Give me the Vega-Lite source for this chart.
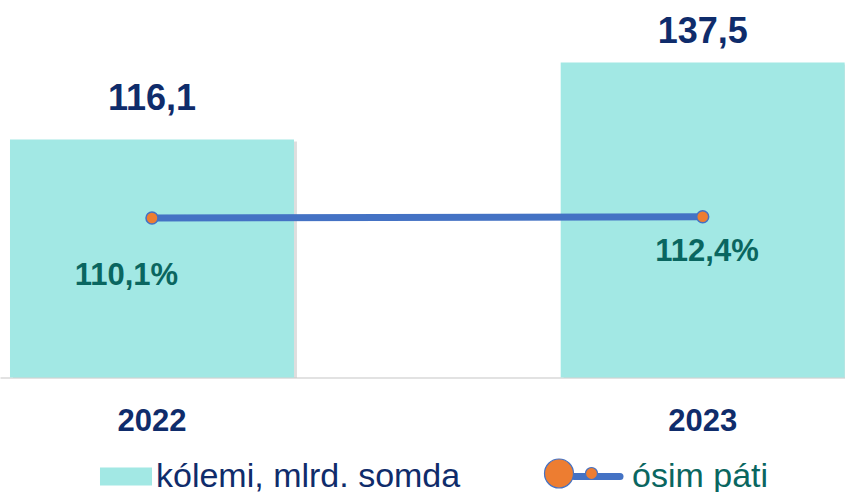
{
  "$schema": "https://vega.github.io/schema/vega-lite/v6.json",
  "width": 845,
  "height": 360,
  "autosize": {"type": "none"},
  "padding": {"left": 0, "top": 17.5, "right": 0, "bottom": 114.5},
  "background": "white",
  "config": {
    "view": {"stroke": null},
    "locale": {"number": {"decimal": ",", "thousands": " ", "grouping": [3], "currency": ["", ""]}}
  },
  "data": {
    "values": [
      {"year": "2022", "value": 116.1, "growth": 110.1, "bar": "kólemi, mlrd. somda", "line": "ósim páti", "marker": "ósim páti "},
      {"year": "2023", "value": 137.5, "growth": 112.4, "bar": "kólemi, mlrd. somda", "line": "ósim páti", "marker": "ósim páti "}
    ]
  },
  "encoding": {
    "x": {
      "field": "year",
      "type": "nominal",
      "scale": {"paddingInner": 0.4843, "paddingOuter": 0.00935, "align": 0.97},
      "axis": {
        "title": null,
        "labelAngle": 0,
        "labelFont": "Liberation Sans",
        "labelFontWeight": "bold",
        "labelFontSize": 31,
        "labelColor": "#0F2C6B",
        "labelBaseline": "alphabetic",
        "labelPadding": 52.5,
        "labelDx": -1.5,
        "ticks": false,
        "tickSize": 0,
        "domainColor": "#D9D9D9",
        "domainWidth": 1.5,
        "grid": false
      }
    }
  },
  "layer": [
    {
      "mark": {"type": "bar", "color": "#000000", "opacity": 0.13, "xOffset": 3, "yOffset": 2, "clip": true},
      "encoding": {
        "y": {"field": "value", "type": "quantitative", "scale": {"domain": [50, 150], "zero": false}, "axis": null}
      }
    },
    {
      "mark": {"type": "bar", "clip": true},
      "encoding": {
        "y": {"field": "value", "type": "quantitative", "scale": {"domain": [50, 150], "zero": false}, "axis": null},
        "color": {
          "field": "bar",
          "type": "nominal",
          "scale": {"range": ["#A2E8E4"]},
          "legend": {
            "orient": "none",
            "legendX": 109,
            "legendY": 442,
            "title": null,
            "symbolType": "M-2.89,-1H2.89V1H-2.89Z",
            "symbolSize": 324,
            "symbolStrokeWidth": 0,
            "symbolOpacity": 1,
            "labelFont": "Liberation Sans",
            "labelFontSize": 34,
            "labelColor": "#0F2C6B",
            "labelOffset": 13,
            "labelLimit": 0,
            "padding": 0
          }
        }
      }
    },
    {
      "mark": {"type": "text", "font": "Liberation Sans", "fontWeight": "bold", "fontSize": 36, "color": "#0F2C6B", "baseline": "alphabetic", "align": "center",
        "dy": {"expr": "datum.year == '2022' ? -29.5 : -20"}},
      "encoding": {
        "y": {"field": "value", "type": "quantitative", "scale": {"domain": [50, 150], "zero": false}, "axis": null},
        "text": {"field": "value", "type": "quantitative", "format": ".1f"}
      }
    },
    {
      "mark": {"type": "line", "strokeWidth": 7},
      "encoding": {
        "y": {"field": "growth", "type": "quantitative", "scale": {"domain": [-200, 500], "zero": false}, "axis": null},
        "stroke": {
          "field": "line",
          "type": "nominal",
          "scale": {"range": ["#4472C4"]},
          "legend": {
            "orient": "none",
            "legendX": 573,
            "legendY": 442,
            "title": null,
            "symbolType": "M-3.2,0H6",
            "symbolSize": 100,
            "symbolStrokeWidth": 7,
            "symbolFillColor": "transparent",
            "labelFont": "Liberation Sans",
            "labelFontSize": 34,
            "labelColor": "#0A6660",
            "labelOffset": 25,
            "labelLimit": 0,
            "padding": 0,
            "encode": {"symbols": {"update": {"strokeCap": {"value": "round"}}}}
          }
        }
      }
    },
    {
      "mark": {"type": "point", "filled": true, "size": 144, "stroke": "#4472C4", "strokeWidth": 1.5, "opacity": 1},
      "encoding": {
        "y": {"field": "growth", "type": "quantitative", "scale": {"domain": [-200, 500], "zero": false}, "axis": null},
        "fill": {
          "field": "marker",
          "type": "nominal",
          "scale": {"range": ["#ED7D31"]},
          "legend": {
            "orient": "none",
            "legendX": 585.5,
            "legendY": 450,
            "title": null,
            "symbolType": "M-9.4,0a2.9,2.9 0 1,0 5.8,0a2.9,2.9 0 1,0 -5.8,0Z M-1.2,0a1.2,1.2 0 1,0 2.4,0a1.2,1.2 0 1,0 -2.4,0Z",
            "symbolSize": 100,
            "symbolStrokeColor": "#4472C4",
            "symbolStrokeWidth": 1.2,
            "symbolOpacity": 1,
            "labelExpr": "''",
            "labelFontSize": 1,
            "padding": 0
          }
        }
      }
    },
    {
      "mark": {"type": "text", "font": "Liberation Sans", "fontWeight": "bold", "fontSize": 31, "color": "#0A6660", "baseline": "alphabetic", "align": "center",
        "dx": {"expr": "datum.year == '2022' ? -25.6 : 4.3"},
        "dy": {"expr": "datum.year == '2022' ? 67.3 : 44.6"},
        "text": {"expr": "replace(format(datum.growth, '.1f'), '.', ',') + '%'"}},
      "encoding": {
        "y": {"field": "growth", "type": "quantitative", "scale": {"domain": [-200, 500], "zero": false}, "axis": null}
      }
    }
  ],
  "resolve": {"scale": {"y": "independent"}}
}
